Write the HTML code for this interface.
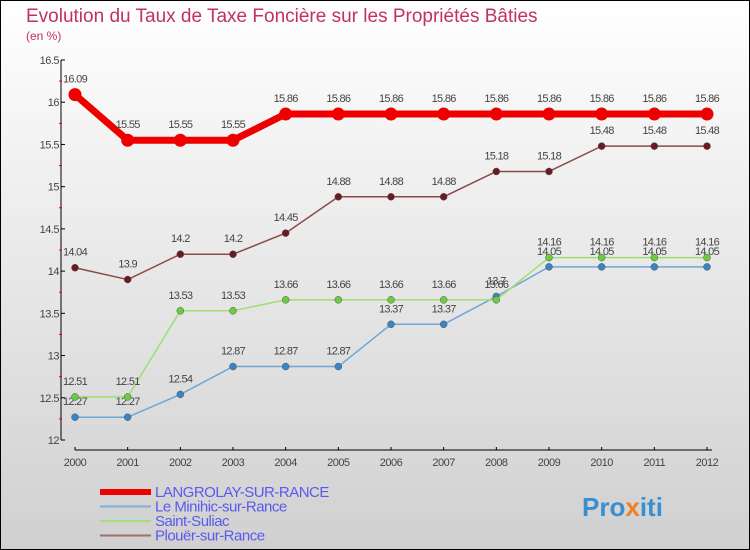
<!DOCTYPE html>
<html><head><meta charset="utf-8"><style>
body{margin:0;width:750px;height:550px;overflow:hidden}
svg{display:block;font-family:"Liberation Sans",sans-serif}
</style></head><body>
<svg id="c" width="750" height="550">
<defs><linearGradient id="bg" x1="0" y1="0" x2="0" y2="1"><stop offset="0" stop-color="#ffffff"/><stop offset="1" stop-color="#d0d0d0"/></linearGradient></defs>
<rect x="0.5" y="0.5" width="749" height="549" fill="url(#bg)" stroke="#000"/>
<text x="26" y="22" font-size="19" fill="#c0306a">Evolution du Taux de Taxe Foncière sur les Propriétés Bâties</text>
<text x="26" y="40" font-size="12" fill="#c0306a">(en %)</text>
<g id="axes"></g><g id="series"></g><g id="legend"></g>
<text x="582" y="516" font-size="26" font-weight="bold" fill="#3a8fd0">Pro<tspan fill="#f08020">x</tspan>iti</text>
</svg>
<script>
const years=[2000,2001,2002,2003,2004,2005,2006,2007,2008,2009,2010,2011,2012];
const langrolay=[16.09,15.55,15.55,15.55,15.86,15.86,15.86,15.86,15.86,15.86,15.86,15.86,15.86];
const minihic=[12.27,12.27,12.54,12.87,12.87,12.87,13.37,13.37,13.7,14.05,14.05,14.05,14.05];
const suliac=[12.51,12.51,13.53,13.53,13.66,13.66,13.66,13.66,13.66,14.16,14.16,14.16,14.16];
const plouer=[14.04,13.9,14.2,14.2,14.45,14.88,14.88,14.88,15.18,15.18,15.48,15.48,15.48];
const yTicks=[12,12.5,13,13.5,14,14.5,15,15.5,16,16.5];
const NS='http://www.w3.org/2000/svg';
const X=i=>75+i*(632/12), Y=v=>440-(v-12)*(380/4.5);
function el(t,a,p){const e=document.createElementNS(NS,t);for(const k in a)e.setAttribute(k,a[k]);p.appendChild(e);return e;}
const ax=document.getElementById('axes');
let l=el('line',{x1:61,y1:60,x2:61,y2:440,stroke:'#000'},ax);

l=el('line',{x1:75,y1:450,x2:712,y2:450,stroke:'#000'},ax);

yTicks.forEach((v,i)=>{
 el('line',{x1:61,y1:Y(v),x2:65,y2:Y(v),stroke:'#000'},ax);
 if(i<yTicks.length-1)el('line',{x1:59,y1:Y(v+0.25),x2:62,y2:Y(v+0.25),stroke:'#e00'},ax);
 const t=el('text',{x:59,y:Y(v)+4,'font-size':11,'text-anchor':'end',fill:'#444','letter-spacing':'-0.5'},ax);t.textContent=v;
 
});
years.forEach((y,i)=>{
 el('line',{x1:X(i),y1:447,x2:X(i),y2:450,stroke:'#000'},ax);
 const t=el('text',{x:X(i),y:466,'font-size':11,'text-anchor':'middle',fill:'#444','letter-spacing':'-0.5'},ax);t.textContent=y;
 
});
const sg=document.getElementById('series');
const defs=[[minihic,'#6fa6d6','#3a84c4',1.5,3.5,'minihic'],[suliac,'#9de070','#6ccc40',1.5,3.5,'saint-suliac'],[plouer,'#8a4a4a','#6a1a20',1.5,3.5,'plouer'],[langrolay,'#ee0000','#ee0000',7,6.5,'langrolay']];
defs.forEach(([d,c,dc,w,r,n])=>{
 const g=el('g',{},sg);
 const p=el('polyline',{points:d.map((v,i)=>X(i)+','+Y(v)).join(' '),fill:'none',stroke:c,'stroke-width':w,'stroke-linejoin':'round'},g);
 
 d.forEach((v,i)=>{
  const ci=el('circle',{cx:X(i),cy:Y(v),r:r,fill:dc,stroke:r>5?'none':'#555','stroke-width':0.5},g);
  
  const t=el('text',{x:X(i),y:Y(v)-12,'font-size':11,'text-anchor':'middle',fill:'#444','letter-spacing':'-0.7'},g);t.textContent=v;
  
 });
});
const lg=document.getElementById('legend');
[['LANGROLAY-SUR-RANCE','#ee0000',6],['Le Minihic-sur-Rance','#7fb0d8',2],['Saint-Suliac','#a0e080',2],['Plouër-sur-Rance','#a07070',2]].forEach(([n,c,w],i)=>{
 const y=492+i*14.5;
 const li=el('line',{x1:100,y1:y,x2:151,y2:y,stroke:c,'stroke-width':w},lg);
 
 const t=el('text',{x:155,y:y+5,'font-size':15,fill:'#5a5af0','letter-spacing':'-0.5'},lg);t.textContent=n;
 
});
</script>
</body></html>
